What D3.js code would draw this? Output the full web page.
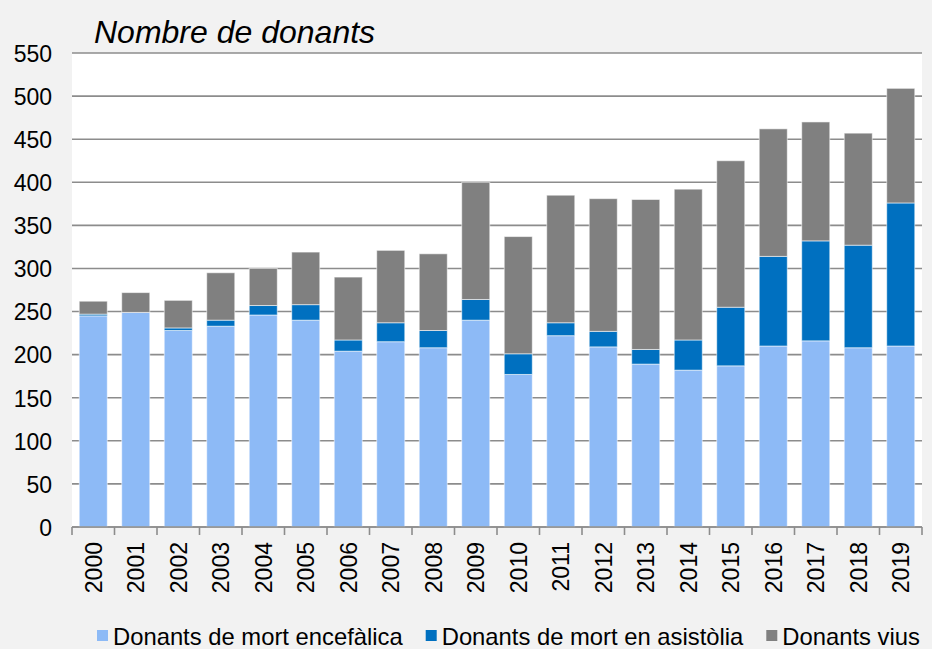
<!DOCTYPE html>
<html>
<head>
<meta charset="utf-8">
<script src="https://cdn.jsdelivr.net/npm/d3@7"></script>
<style>
  body { margin: 0; background: #f2f2f2; }
  svg text { font-family: "Liberation Sans", Arial, sans-serif; fill: #000; }
</style>
</head>
<body>
<div id="chart"></div>
<script>
// data
var years = ["2000","2001","2002","2003","2004","2005","2006","2007","2008","2009",
             "2010","2011","2012","2013","2014","2015","2016","2017","2018","2019"];
var encefalica = [245, 249, 228, 233, 246, 240, 204, 215, 208, 240,
                  177, 222, 209, 189, 182, 187, 210, 216, 208, 210];
var asistolia  = [2, 0, 3, 7, 11, 18, 13, 22, 20, 24,
                  24, 15, 18, 17, 35, 68, 104, 116, 119, 166];
var vius       = [15, 23, 32, 55, 43, 61, 73, 84, 89, 136,
                  136, 148, 154, 174, 175, 170, 148, 138, 130, 133];
var seriesNames = ["Donants de mort encefàlica", "Donants de mort en asistòlia", "Donants vius"];
var seriesKeys = ["enc", "asi", "viu"];
var colors = ["#8dbaf6", "#0070c0", "#808080"];
var yTicks = [0, 50, 100, 150, 200, 250, 300, 350, 400, 450, 500, 550];

var width = 932, height = 649;
var margin = {top: 53, right: 10, bottom: 122, left: 72};
var innerW = width - margin.left - margin.right,
    innerH = height - margin.top - margin.bottom;

var table = years.map(function(y, i) {
  return {year: y, enc: encefalica[i], asi: asistolia[i], viu: vius[i]};
});
var stacked = d3.stack().keys(seriesKeys)(table);

var svg = d3.select("#chart").append("svg")
  .attr("width", width)
  .attr("height", height);

svg.append("rect").attr("width", width).attr("height", height).attr("fill", "#f2f2f2");

var g = svg.append("g").attr("transform", "translate(" + margin.left + "," + margin.top + ")");

var x = d3.scaleBand().domain(years).range([0, innerW]).paddingInner(0.34).paddingOuter(0.17);
var y = d3.scaleLinear().domain([0, 550]).range([innerH, 0]);

// plot area
g.append("rect").attr("width", innerW).attr("height", innerH).attr("fill", "#fff");

// gridlines
g.append("g").selectAll("line")
  .data(yTicks)
  .enter().append("line")
  .attr("x1", 0).attr("x2", innerW)
  .attr("y1", function(d) { return y(d); })
  .attr("y2", function(d) { return y(d); })
  .attr("stroke", "#8c8c8c")
  .attr("stroke-width", 1.6);

// y axis labels
var yAxis = g.append("g")
  .call(d3.axisLeft(y).tickValues(yTicks).tickSize(0).tickPadding(20));
yAxis.select(".domain").remove();
yAxis.selectAll("text").style("font-size", "23px").attr("dy", "0.36em");

// bars
var layer = g.selectAll(".layer")
  .data(stacked)
  .enter().append("g")
  .attr("class", "layer")
  .attr("fill", function(d, i) { return colors[i]; });

layer.selectAll("rect")
  .data(function(d) { return d; })
  .enter().append("rect")
  .attr("x", function(d) { return x(d.data.year); })
  .attr("width", x.bandwidth())
  .attr("y", function(d) { return y(d[1]); })
  .attr("height", function(d) { return Math.max(0, y(d[0]) - y(d[1])); })
  .attr("stroke", "rgba(255,255,255,0.55)")
  .attr("stroke-width", 1);

// x axis
var step = x.step();
var xAxis = g.append("g").attr("transform", "translate(0," + innerH + ")");
xAxis.append("line").attr("x1", 0).attr("x2", innerW)
  .attr("stroke", "#8c8c8c").attr("stroke-width", 1.6);
xAxis.selectAll(".tick")
  .data(d3.range(years.length + 1))
  .enter().append("line")
  .attr("x1", function(i) { return i * step; })
  .attr("x2", function(i) { return i * step; })
  .attr("y1", 0).attr("y2", 8)
  .attr("stroke", "#8c8c8c").attr("stroke-width", 1.6);

xAxis.selectAll(".yr")
  .data(years)
  .enter().append("text")
  .attr("transform", function(d) {
    return "translate(" + (x(d) + x.bandwidth() / 2) + ",15) rotate(-90)";
  })
  .attr("text-anchor", "end")
  .attr("dy", "0.36em")
  .style("font-size", "23px")
  .text(function(d) { return d; });

// title
svg.append("text")
  .attr("x", 94).attr("y", 43)
  .style("font-size", "32px")
  .style("font-style", "italic")
  .text("Nombre de donants");

// legend
var legend = svg.append("g").attr("transform", "translate(0,636)");
var lx = 97;
seriesNames.forEach(function(name, i) {
  legend.append("rect")
    .attr("x", lx).attr("y", -6)
    .attr("width", 11).attr("height", 11)
    .attr("fill", colors[i]);
  var t = legend.append("text")
    .attr("x", lx + 16).attr("y", 0)
    .attr("dy", "0.36em")
    .style("font-size", "23.8px")
    .text(name);
  lx += 16 + t.node().getComputedTextLength() + 23;
});
</script>
</body>
</html>
